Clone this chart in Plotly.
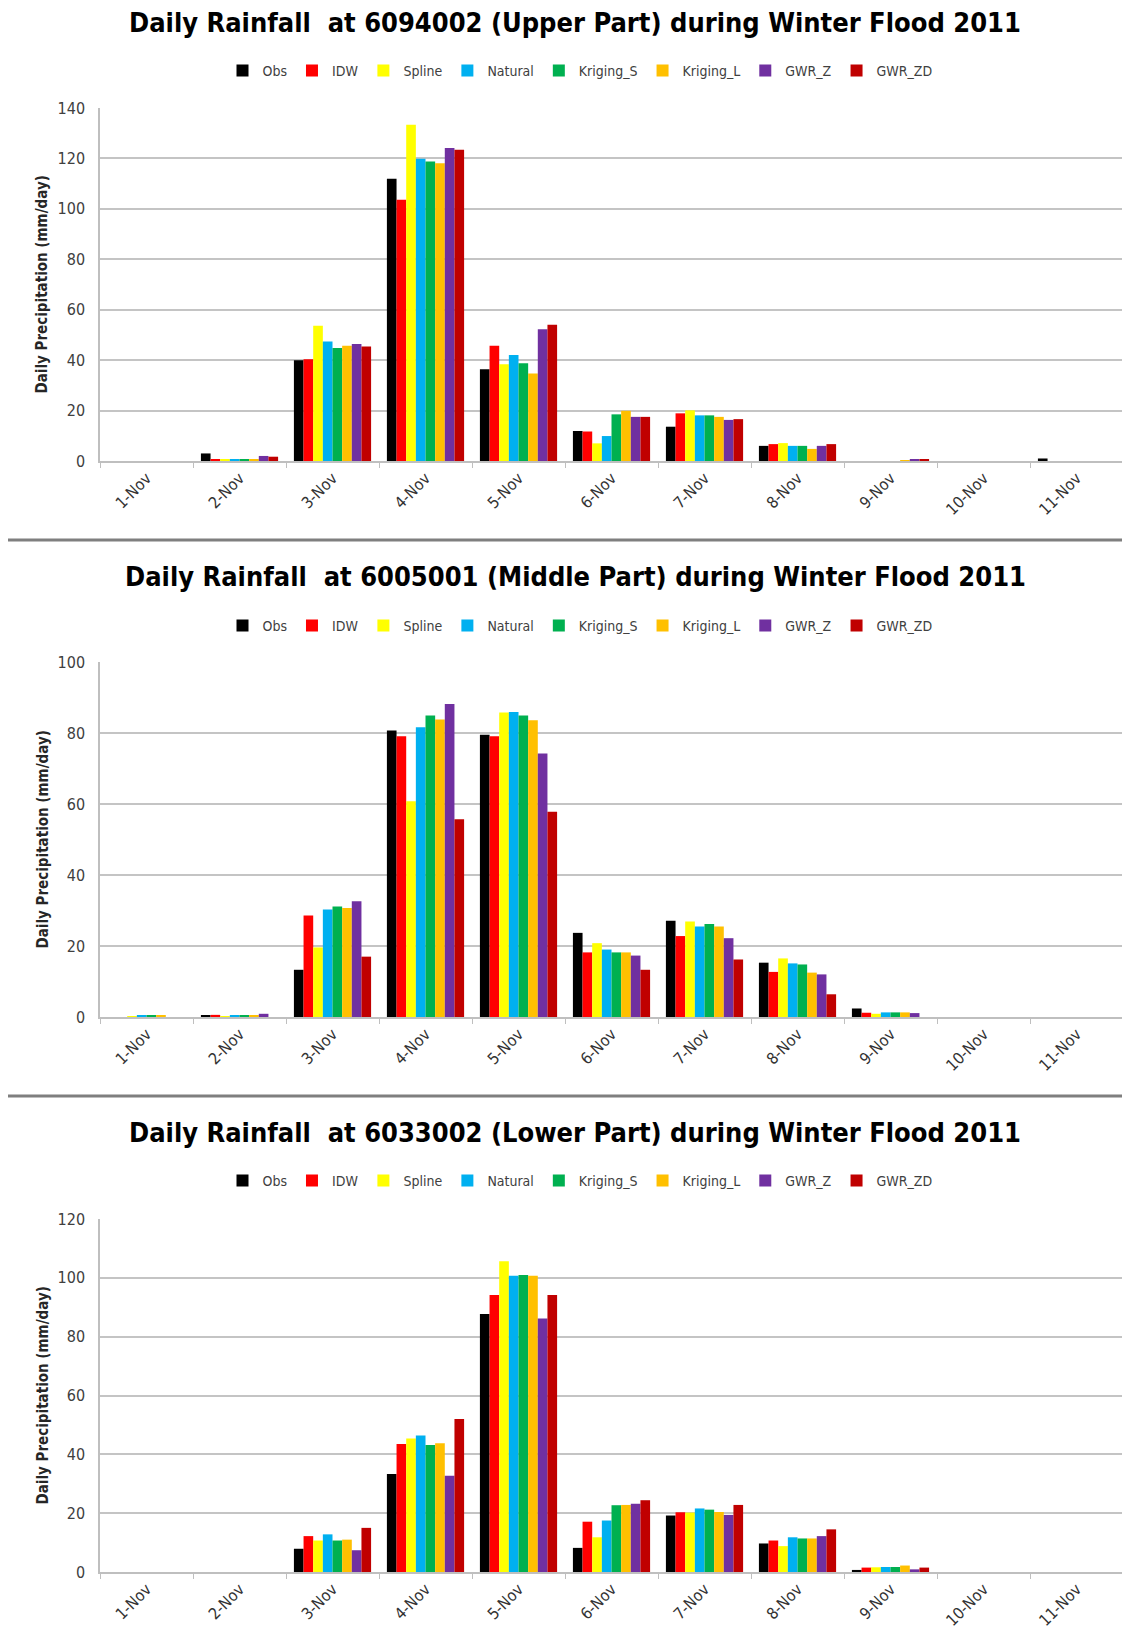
import plotly.graph_objects as go

DAYS = ["1-Nov", "2-Nov", "3-Nov", "4-Nov", "5-Nov", "6-Nov", "7-Nov", "8-Nov", "9-Nov", "10-Nov", "11-Nov"]
METHODS = ["Obs", "IDW", "Spline", "Natural", "Kriging_S", "Kriging_L", "GWR_Z", "GWR_ZD"]
COLORS = ["#000000", "#FF0000", "#FFFF00", "#00B0F0", "#00B050", "#FFC000", "#7030A0", "#C00000"]

TITLES = [
    "Daily Rainfall  at 6094002 (Upper Part) during Winter Flood 2011",
    "Daily Rainfall  at 6005001 (Middle Part) during Winter Flood 2011",
    "Daily Rainfall  at 6033002 (Lower Part) during Winter Flood 2011",
]
Y_TITLE = "Daily Precipitation (mm/day)"
Y_MAX = [140, 100, 120]

# Upper part (6094002)
UP_OBS = [0, 3.0, 40.0, 111.9, 36.4, 11.9, 13.6, 6.0, 0, 0, 1.0]
UP_IDW = [0, 0.5, 40.4, 103.6, 45.7, 11.7, 18.9, 6.7, 0, 0, 0]
UP_SPLINE = [0, 0.4, 53.6, 133.4, 38.4, 7.0, 20.1, 7.1, 0, 0, 0]
UP_NATURAL = [0, 0.8, 47.4, 119.9, 42.0, 9.9, 18.1, 6.0, 0, 0, 0]
UP_KRIG_S = [0, 0.8, 44.8, 118.8, 38.8, 18.5, 18.1, 6.0, 0, 0, 0]
UP_KRIG_L = [0, 0.8, 45.7, 118.1, 34.7, 19.9, 17.5, 4.8, 0.2, 0, 0]
UP_GWR_Z = [0, 2.0, 46.4, 124.1, 52.3, 17.5, 16.3, 6.0, 0.5, 0, 0]
UP_GWR_ZD = [0, 1.7, 45.4, 123.4, 54.0, 17.5, 16.6, 6.7, 0.8, 0, 0]

# Middle part (6005001)
MID_OBS = [0, 0.5, 13.3, 80.7, 79.5, 23.7, 27.1, 15.3, 2.4, 0, 0]
MID_IDW = [0, 0.6, 28.6, 79.1, 79.1, 18.2, 22.8, 12.7, 1.2, 0, 0]
MID_SPLINE = [0.2, 0.2, 19.6, 60.8, 85.8, 20.8, 26.9, 16.5, 0.9, 0, 0]
MID_NATURAL = [0.4, 0.4, 30.3, 81.6, 85.9, 19.0, 25.5, 15.1, 1.3, 0, 0]
MID_KRIG_S = [0.4, 0.4, 31.1, 84.9, 84.9, 18.2, 26.2, 14.8, 1.3, 0, 0]
MID_KRIG_L = [0.3, 0.3, 30.7, 83.8, 83.6, 18.2, 25.5, 12.5, 1.3, 0, 0]
MID_GWR_Z = [0, 0.9, 32.6, 88.2, 74.2, 17.3, 22.2, 12.0, 1.1, 0, 0]
MID_GWR_ZD = [0, 0, 17.0, 55.7, 57.8, 13.3, 16.2, 6.4, 0, 0, 0]

# Lower part (6033002)
LOW_OBS = [0, 0, 7.9, 33.3, 87.7, 8.2, 19.2, 9.7, 0.7, 0, 0]
LOW_IDW = [0, 0, 12.2, 43.5, 94.2, 17.1, 20.3, 10.7, 1.5, 0, 0]
LOW_SPLINE = [0, 0, 10.7, 45.4, 105.6, 11.8, 20.2, 8.8, 1.6, 0, 0]
LOW_NATURAL = [0, 0, 12.8, 46.4, 100.7, 17.5, 21.6, 11.8, 1.7, 0, 0]
LOW_KRIG_S = [0, 0, 10.7, 43.2, 101.0, 22.7, 21.2, 11.4, 1.7, 0, 0]
LOW_KRIG_L = [0, 0, 11.0, 43.8, 100.7, 22.8, 20.4, 11.4, 2.2, 0, 0]
LOW_GWR_Z = [0, 0, 7.4, 32.7, 86.2, 23.2, 19.4, 12.2, 0.9, 0, 0]
LOW_GWR_ZD = [0, 0, 15.0, 52.0, 94.2, 24.4, 22.8, 14.5, 1.5, 0, 0]

PANELS = [
    [UP_OBS, UP_IDW, UP_SPLINE, UP_NATURAL, UP_KRIG_S, UP_KRIG_L, UP_GWR_Z, UP_GWR_ZD],
    [MID_OBS, MID_IDW, MID_SPLINE, MID_NATURAL, MID_KRIG_S, MID_KRIG_L, MID_GWR_Z, MID_GWR_ZD],
    [LOW_OBS, LOW_IDW, LOW_SPLINE, LOW_NATURAL, LOW_KRIG_S, LOW_KRIG_L, LOW_GWR_Z, LOW_GWR_ZD],
]

W, H = 1130, 1633
OFF = 8  # page body margin offset
FONT = "DejaVu Sans Condensed, sans-serif"
PLOT_TOP = [108, 662, 1219]
PLOT_BOT = [461, 1017, 1572]
TITLE_Y = [23, 576, 1132]
LEGEND_Y = [71, 626, 1181]
SEPARATORS = [540, 1096]
X_LEFT, X_RIGHT = 100, 1123
TITLE_X, LEGEND_X = 575, 580

def py(px):
    return 1 - (px - OFF) / H

def px_(x):
    return (x - OFF) / W

fig = go.Figure()
legend_names = ["legend", "legend2", "legend3"]
axis_suffix = ["", "2", "3"]

for p, series in enumerate(PANELS):
    for m, (name, color, vals) in enumerate(zip(METHODS, COLORS, series)):
        fig.add_trace(go.Bar(
            x=DAYS, y=vals, name=name, marker=dict(color=color, line=dict(width=0)),
            xaxis="x" + axis_suffix[p], yaxis="y" + axis_suffix[p],
            legend=legend_names[p], showlegend=True,
        ))

layout = dict(
    width=W, height=H, margin=dict(l=0, r=0, t=0, b=0, autoexpand=False),
    paper_bgcolor="white", plot_bgcolor="white",
    barmode="group", bargap=0.17, bargroupgap=0,
    font=dict(family=FONT, color="#404040"),
    annotations=[], shapes=[],
)

for p in range(3):
    s = axis_suffix[p]
    layout["xaxis" + s] = dict(
        domain=[px_(X_LEFT), px_(X_RIGHT)], anchor="y" + s, automargin=False,
        type="category", categoryorder="array", categoryarray=DAYS,
        showline=True, linecolor="#BFBFBF", linewidth=1.5,
        ticks="outside", tickson="boundaries", ticklen=5, tickcolor="#BFBFBF",
        tickangle=-45, tickfont=dict(family=FONT, size=16, color="#333333"),
        showgrid=False, zeroline=False,
    )
    layout["yaxis" + s] = dict(
        domain=[py(PLOT_BOT[p]), py(PLOT_TOP[p])], anchor="x" + s, automargin=False,
        range=[0, Y_MAX[p]], dtick=20, tick0=0,
        showgrid=True, gridcolor="#C4C4C4", gridwidth=1.5,
        showline=True, linecolor="#BFBFBF", linewidth=1.5,
        ticks="", ticklabelstandoff=10,
        tickfont=dict(family=FONT, size=16, color="#404040"),
        zeroline=False,
    )
    layout[legend_names[p]] = dict(
        orientation="h", x=px_(LEGEND_X), xanchor="center", y=py(LEGEND_Y[p]), yanchor="middle",
        font=dict(family=FONT, size=14, color="#404040"),
        itemwidth=30, tracegroupgap=0, bgcolor="rgba(0,0,0,0)",
        itemclick=False,
    )
    layout["annotations"].append(dict(
        text="<b>" + TITLES[p] + "</b>", xref="paper", yref="paper",
        x=px_(TITLE_X), y=py(TITLE_Y[p]), xanchor="center", yanchor="middle",
        showarrow=False, font=dict(family=FONT, size=27, color="#000000"),
    ))
    layout["annotations"].append(dict(
        text="<b>" + Y_TITLE + "</b>", xref="paper", yref="paper",
        x=px_(42), y=py((PLOT_TOP[p] + PLOT_BOT[p]) / 2), xanchor="center", yanchor="middle",
        textangle=-90, showarrow=False, font=dict(family=FONT, size=15, color="#262626"),
    ))

for sy in SEPARATORS:
    layout["shapes"].append(dict(
        type="line", xref="paper", yref="paper", x0=0, x1=1, y0=py(sy), y1=py(sy),
        line=dict(color="#7F7F7F", width=3),
    ))

fig.update_layout(**layout)
fig.write_html("out.html")
